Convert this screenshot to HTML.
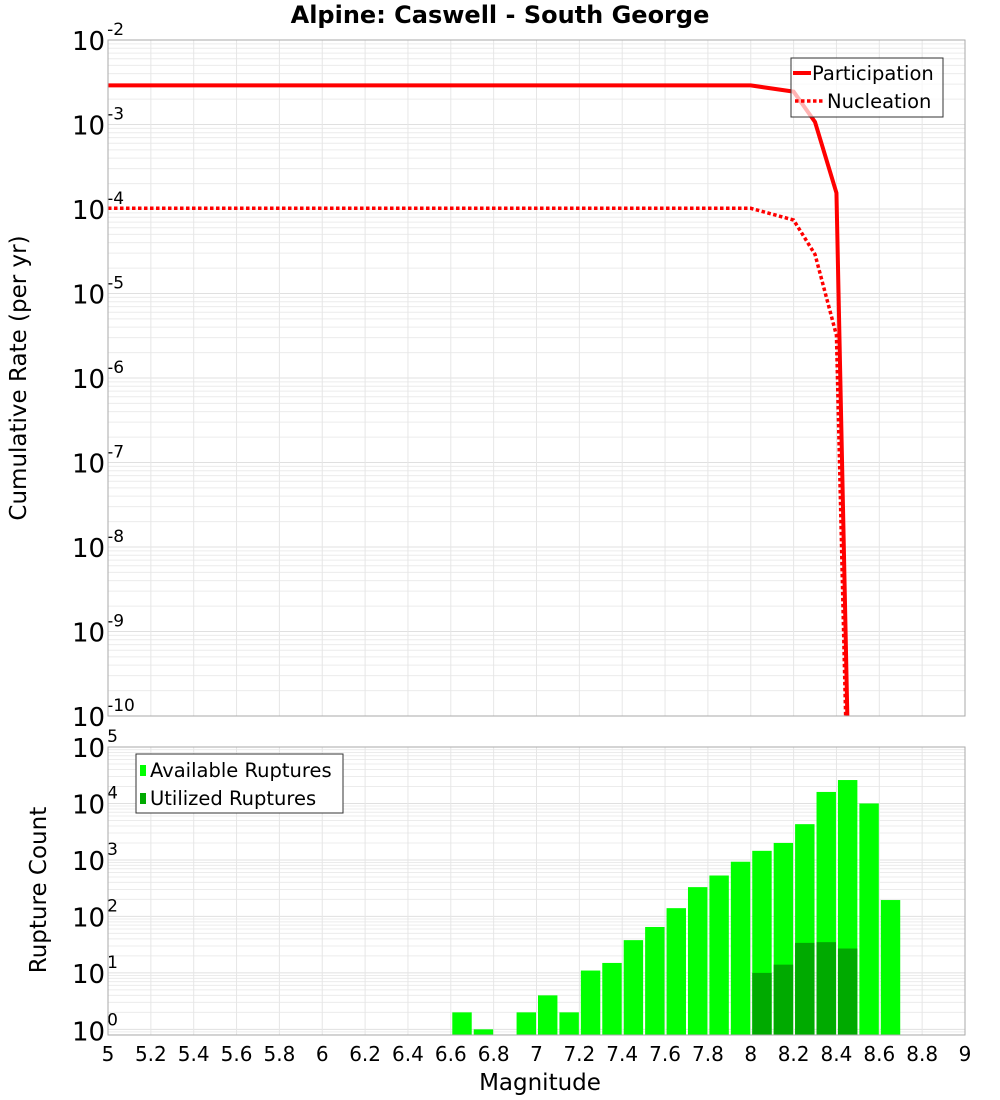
<!DOCTYPE html>
<html><head><meta charset="utf-8"><style>
html,body{margin:0;padding:0;background:#fff;overflow:hidden;width:1000px;height:1100px}
svg{display:block}
svg text{font-family:"DejaVu Sans","Liberation Sans",sans-serif}
</style></head><body>
<svg id="c" width="1000" height="1100" xmlns="http://www.w3.org/2000/svg">
<text x="500" y="23" text-anchor="middle" font-size="24" font-weight="bold">Alpine: Caswell - South George</text>
<text transform="translate(26,378) rotate(-90)" text-anchor="middle" font-size="23">Cumulative Rate (per yr)</text>
<text transform="translate(46,890) rotate(-90)" text-anchor="middle" font-size="23">Rupture Count</text>
<text x="540" y="1090" text-anchor="middle" font-size="23">Magnitude</text>
<g id="g"></g>
</svg>
<script>
const xTicks=[5,5.2,5.4,5.6,5.8,6,6.2,6.4,6.6,6.8,7,7.2,7.4,7.6,7.8,8,8.2,8.4,8.6,8.8,9];
const xTickLabels=["5","5.2","5.4","5.6","5.8","6","6.2","6.4","6.6","6.8","7","7.2","7.4","7.6","7.8","8","8.2","8.4","8.6","8.8","9"];
const partMags=[5.0,8.0,8.2,8.3,8.4,8.5];
const partRates=[2.9e-3,2.9e-3,2.45e-3,1.07e-3,1.55e-4,1e-16];
const nuclMags=[5.0,8.0,8.2,8.3,8.4,8.5];
const nuclRates=[1.02e-4,1.02e-4,7.4e-5,2.9e-5,3.2e-6,1e-16];
const binMags=[6.6,6.7,6.9,7.0,7.1,7.2,7.3,7.4,7.5,7.6,7.7,7.8,7.9,8.0,8.1,8.2,8.3,8.4,8.5,8.6];
const availCounts=[2,1,2,4,2,11,15,38,65,140,330,530,930,1450,2000,4300,16000,26000,10000,195];
const utilMags=[8.0,8.1,8.2,8.3,8.4];
const utilCounts=[10,14,34,35,27];

const NS="http://www.w3.org/2000/svg";
const g=document.getElementById('g');
function el(t,a,p){const e=document.createElementNS(NS,t);for(const k in a)e.setAttribute(k,a[k]);(p||g).appendChild(e);return e;}
const L=108,R=965;
const X=m=>L+(m-5)/4*(R-L);
const T1=40,B1=716;const Y1=v=>T1+(-2-Math.log10(v))/8*(B1-T1);
const T2=747,B2=1035,lmin=-0.1,lmax=5;const Y2=v=>B2-(Math.log10(v)-lmin)/(lmax-lmin)*(B2-T2);

function grid(T,B,Yf,dmin,dmax,vmin,vmax){
  for(let d=dmin;d<=dmax;d++)for(let k=1;k<10;k++){const v=k*Math.pow(10,d);if(v<vmin*0.999||v>vmax*1.001)continue;const y=Yf(v);
    const ln=el('line',{x1:L,x2:R,y1:y,y2:y,stroke:k==1?'#e0e0e0':'#ececec','stroke-width':1});
    
    }
  xTicks.forEach(m=>{const ln=el('line',{x1:X(m),x2:X(m),y1:T,y2:B,stroke:'#e6e6e6'});
    
    });
}
grid(T1,B1,Y1,-10,-2,1e-10,1e-2);
grid(T2,B2,Y2,-1,5,Math.pow(10,lmin),1e5);

function ylabel(y,exp,name){const t=el('text',{x:72,y:y+10,'font-size':26,'text-anchor':'start'});
  
  
  t.textContent='10';const s=el('tspan',{dy:-15,dx:2,'font-size':17},t);s.textContent=exp;}
for(let d=-10;d<=-2;d++)ylabel(Y1(Math.pow(10,d)),String(d),'top-y-tick-label');
for(let d=0;d<=5;d++)ylabel(Y2(Math.pow(10,d))-(d==0?-1:0),String(d),'bottom-y-tick-label');

binMags.forEach((m,i)=>{const y=Y2(availCounts[i]);const r=el('rect',{x:X(m)+1.5,y:y,width:X(m+0.1)-X(m)-2,height:B2-y,fill:'#00ff00'});
  
  });
utilMags.forEach((m,i)=>{const y=Y2(utilCounts[i]);const r=el('rect',{x:X(m)+1.5,y:y,width:X(m+0.1)-X(m)-2,height:B2-y,fill:'#00aa00'});
  
  });

const clip=el('clipPath',{id:'cp'});el('rect',{x:L,y:T1,width:R-L,height:B1-T1},clip);
const pp=el('polyline',{points:partMags.map((m,i)=>X(m)+','+Y1(partRates[i])).join(' '),fill:'none',stroke:'#ff0000','stroke-width':4,'clip-path':'url(#cp)'});


const np=el('polyline',{points:nuclMags.map((m,i)=>X(m)+','+Y1(nuclRates[i])).join(' '),fill:'none',stroke:'#ff0000','stroke-width':3.5,'stroke-dasharray':'3.5,2.5','clip-path':'url(#cp)'});



[[T1,B1],[T2,B2]].forEach(([t,b])=>{const f=el('rect',{x:L,y:t,width:R-L,height:b-t,fill:'none',stroke:'#aaaaaa'});
  
  });

xTicks.forEach((m,i)=>{const t=el('text',{x:X(m),y:1061,'font-size':20,'text-anchor':'middle'});
  
  
  t.textContent=xTickLabels[i];});

const lg1=el('g',{});


el('rect',{x:791,y:58,width:152,height:59,fill:'#fff','fill-opacity':0.7,stroke:'#333'},lg1);
el('line',{x1:793,x2:811,y1:73,y2:73,stroke:'#f00','stroke-width':4},lg1);
el('line',{x1:795,x2:823,y1:101,y2:101,stroke:'#f00','stroke-width':3.5,'stroke-dasharray':'3.5,2.5'},lg1);
const a=el('text',{x:812,y:80,'font-size':19.5},lg1);a.textContent='Participation';
const b=el('text',{x:827,y:108,'font-size':19.5},lg1);b.textContent='Nucleation';
const lg2=el('g',{});


el('rect',{x:136,y:754,width:207,height:59,fill:'#fff',stroke:'#333'},lg2);
el('rect',{x:140,y:765,width:6,height:11,fill:'#00ff00'},lg2);
el('rect',{x:140,y:793,width:6,height:11,fill:'#00aa00'},lg2);
const c=el('text',{x:150,y:777,'font-size':19.5},lg2);c.textContent='Available Ruptures';
const d=el('text',{x:150,y:805,'font-size':19.5},lg2);d.textContent='Utilized Ruptures';
</script>
</body></html>
